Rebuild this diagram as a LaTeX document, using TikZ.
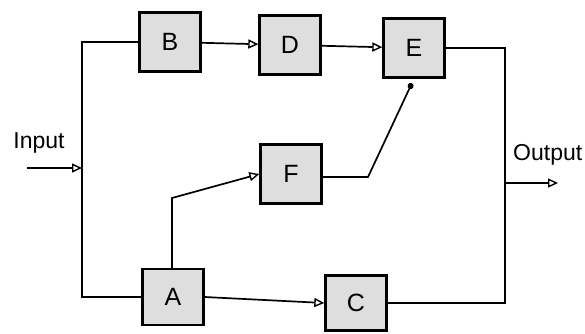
\documentclass[tikz,border=0pt]{standalone}
\usepackage{fontspec}
\setmainfont{Liberation Sans}
\usetikzlibrary{arrows.meta}
\begin{document}
\begin{tikzpicture}[x=1pt,y=-1pt,
  blk/.style={draw=black, line width=2.4pt, fill=black!13, minimum width=61pt, minimum height=59pt, inner sep=0pt, font=\fontsize{25}{28}\selectfont},
  wire/.style={line width=1.7pt},
  arr/.style={wire, -{Triangle[open, length=10pt, width=9pt, line width=1.4pt]}},
  lbl/.style={font=\fontsize{23}{26}\selectfont, inner sep=0pt}]
\useasboundingbox (0,0) rectangle (585,333);
\fill[white] (0,0) rectangle (585,333);
% blocks
\node[blk] (B) at (170,42) {B};
\node[blk] (D) at (290,45) {D};
\node[blk] (E) at (414,48) {E};
\node[blk] (F) at (291,174) {F};
\node[blk, minimum height=56pt] (A) at (173,297) {A};
\node[blk, minimum height=55pt] (C) at (356,303) {C};
% labels
\node[lbl] (inlbl) at (39,143) {Input};
\node[lbl, anchor=west] (outlbl) at (513,155) {Output};
% coordinates
\coordinate (in) at (27,168);
\coordinate (jin) at (82,168);
\coordinate (aF) at (172,198);
\coordinate (fk) at (368,177);
\coordinate (oj) at (505,183);
\coordinate (out) at (558,183);
% connectors
\draw[arr] (in) -- (jin);
\draw[wire] (B.west) -| (jin) |- (A.west);
\draw[arr] (B) -- (D);
\draw[arr] (D) -- (E);
\draw[arr] (A.north -| aF) -- (aF) -- (F.west);
\draw[arr] (A.east) -- (C.west);
\draw[wire, -{Circle[length=6pt]}, shorten >=5pt] (F.east |- fk) -- (fk) -- (E.south);
\draw[wire] (E.east) -| (oj);
\draw[wire] (C.east) -| (oj);
\draw[arr] (oj) -- (out);
\end{tikzpicture}
\end{document}
